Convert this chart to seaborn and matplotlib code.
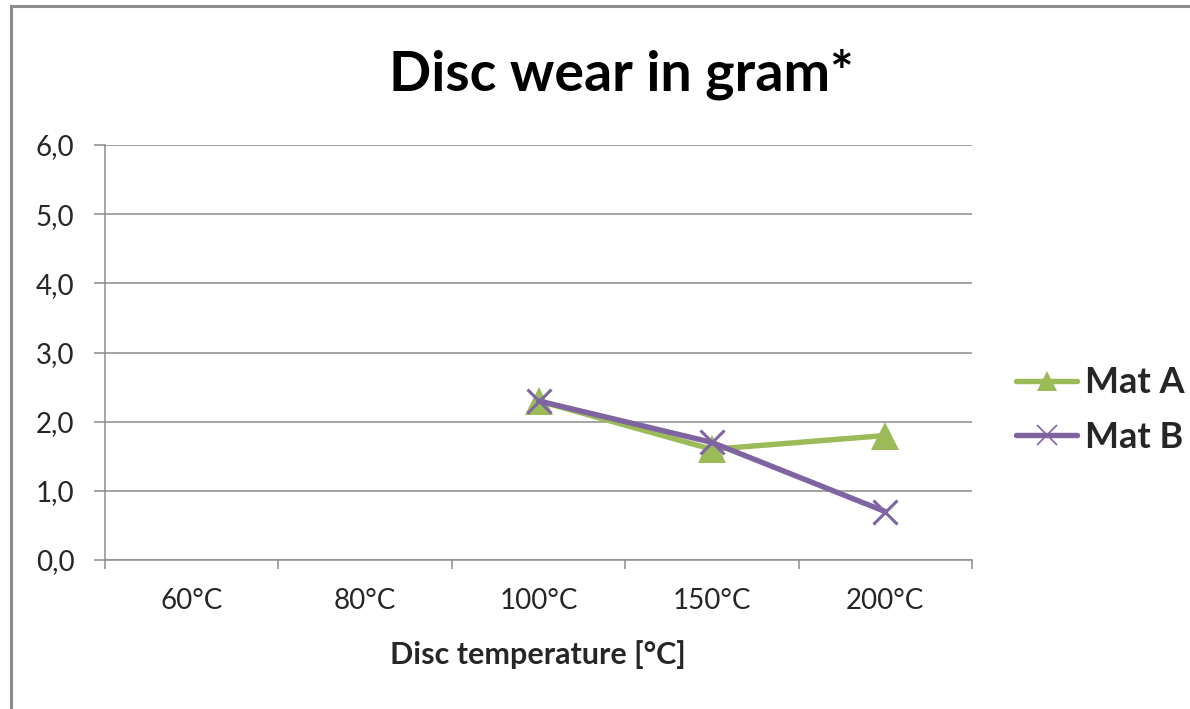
import matplotlib
matplotlib.use("Agg")
import matplotlib.pyplot as plt
import seaborn as sns
import pandas as pd
from matplotlib.lines import Line2D
from matplotlib.patches import Rectangle

# Categories and measured values
temperatures = ["60°C", "80°C", "100°C", "150°C", "200°C"]
measured_temps = ["100°C", "150°C", "200°C"]
mat_a = [2.3, 1.6, 1.8]
mat_b = [2.3, 1.7, 0.7]
materials = ["Mat A", "Mat B"]
colors = ["#9BBB59", "#8064A2"]
markers = ["^", "x"]
y_ticks = [0, 1, 2, 3, 4, 5, 6]

sns.set_theme(style="white")
plt.rcParams["font.family"] = ["Lato", "DejaVu Sans"]

df = pd.DataFrame({
    "temperature": measured_temps * 2,
    "wear": mat_a + mat_b,
    "material": [materials[0]] * len(mat_a) + [materials[1]] * len(mat_b),
})

W, H = 1190, 709
fig = plt.figure(figsize=(W / 100, H / 100), dpi=100)
ax = fig.add_axes([105 / W, 1 - 560 / H, 867 / W, 415 / H])

sns.pointplot(
    data=df, x="temperature", y="wear", hue="material",
    order=temperatures, hue_order=materials, palette=colors,
    markers=markers, linestyles=["-", "-"], errorbar=None,
    legend=False, ax=ax, linewidth=3.9, markersize=18,
)
for ln in ax.lines:
    if ln.get_marker() == "x":
        ln.set_markersize(17)
        ln.set_markeredgewidth(2.2)
    else:
        ln.set_markersize(20)
        ln.set_markeredgewidth(0)

grey = "#8c8c8c"
text_col = "#262626"

ax.set_ylim(0, 6)
ax.set_xlim(-0.5, len(temperatures) - 0.5)
ax.set_yticks(y_ticks, [f"{v:.1f}".replace(".", ",") for v in y_ticks])
ax.set_xticks([i - 0.5 for i in range(len(temperatures) + 1)], [])
ax.set_xticks(range(len(temperatures)), temperatures, minor=True)
ax.set_xlabel("")
ax.set_ylabel("")

ax.tick_params(axis="x", which="major", bottom=True, length=6.5, width=1.1,
               color=grey, labelbottom=False)
ax.tick_params(axis="x", which="minor", bottom=True, length=0, pad=20,
               labelsize=20, labelcolor=text_col)
ax.tick_params(axis="y", left=True, length=8, width=1.1, color=grey,
               pad=14, labelsize=20, labelcolor=text_col)

ax.yaxis.grid(True, color=grey, linewidth=1.1)
ax.set_axisbelow(True)
for side in ["top", "right"]:
    ax.spines[side].set_visible(False)
for side in ["left", "bottom"]:
    ax.spines[side].set_color(grey)
    ax.spines[side].set_linewidth(1.1)

fig.text(621 / W, 1 - 90 / H, "Disc wear in gram*", ha="center", va="baseline",
         fontsize=40, fontweight="bold", color="black")
fig.text(538 / W, 1 - 664 / H, "Disc temperature [°C]", ha="center",
         va="baseline", fontsize=22, fontweight="bold", color=text_col)

handles = [
    Line2D([], [], color=colors[0], lw=3.9, marker="^", markersize=15,
           markeredgewidth=0),
    Line2D([], [], color=colors[1], lw=3.9, marker="x", markersize=15,
           markeredgewidth=1.2),
]
fig.legend(handles, materials, loc="center left",
           bbox_to_anchor=(1016 / W, 1 - 410 / H), frameon=False,
           prop={"weight": "bold", "size": 26}, labelcolor=text_col,
           handlelength=1.7, handletextpad=0.2, labelspacing=0.6,
           borderaxespad=0, borderpad=0)

fig.add_artist(Rectangle((11 / W, -0.1), 1.2, 1 - 6 / H + 0.1,
                         transform=fig.transFigure, fill=False,
                         edgecolor=grey, linewidth=2.2, clip_on=False))

fig.savefig("out.png", dpi=100)
